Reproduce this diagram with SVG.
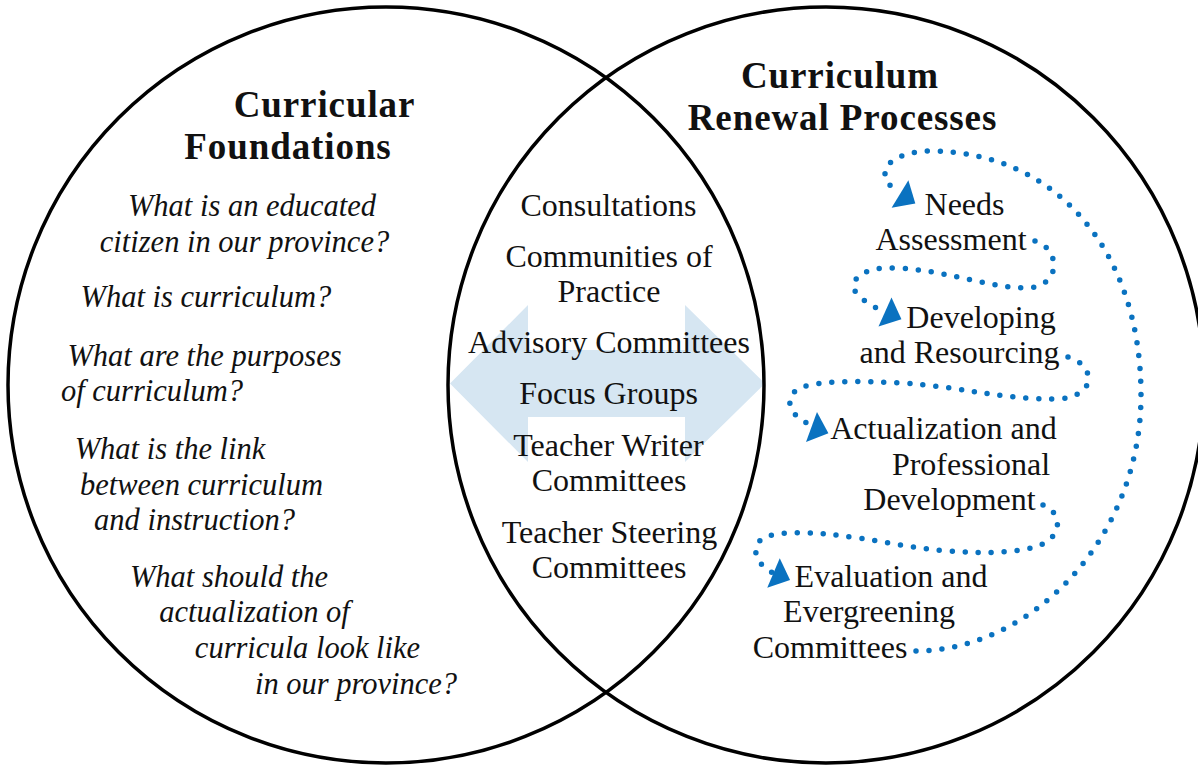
<svg xmlns="http://www.w3.org/2000/svg" width="1198" height="766" viewBox="0 0 1198 766">
<style>
.circ{fill:none;stroke:#000;stroke-width:3.5}
.t{font-family:"Liberation Serif","Times New Roman",serif;fill:#111;text-anchor:middle}
.title{font-size:37px;font-weight:bold;letter-spacing:0.9px}
.q{font-size:30.5px;font-style:italic}
.m{font-size:32px}
.dots{fill:none;stroke:#0a72c0;stroke-width:5.5;stroke-linecap:round;stroke-dasharray:0 13}
.ah{fill:#0a72c0}
.dbl{fill:#d6e6f2}
</style>
<defs>
<polygon id="head" points="0,-16 18,0 0,16"/>
</defs>
<rect width="1198" height="766" fill="#fff"/>
<g id="exchange-arrow">
<polygon class="dbl" points="450,383.5 528,305 528,350 685,350 685,305 765,383.5 685,462 685,417 528,417 528,462"/>
</g>
<g id="left-circle"><circle class="circ" cx="386" cy="385" r="378"/></g>
<g id="right-circle"><circle class="circ" cx="826" cy="385" r="378"/></g>
<g id="connectors">
<path class="dots" d="M916,651 C1030,651 1141,540 1141,395 C1141,250 1055,151 930,151 C908,151 885,160 885,173 C885,180 888,184 893,188"/>
<path class="dots" d="M1035,241 C1058,248 1062,280 1035,287 C1000,292 950,270 895,268 C860,266 846,283 858,295 C866,303 876,308 885,312"/>
<path class="dots" d="M1068,357 C1095,365 1098,395 1060,399 C1000,400 960,386 900,383 C860,381 820,380 800,388 C785,395 788,412 800,418 C804,421 808,424 811,427"/>
<path class="dots" d="M1043,505 C1062,512 1065,538 1035,547 C1000,556 950,553 900,545 C850,536 800,528 768,536 C750,542 752,562 773,573"/>
<use href="#head" class="ah" transform="translate(900,194) rotate(31.6)"/>
<use href="#head" class="ah" transform="translate(885,312) rotate(24)"/>
<use href="#head" class="ah" transform="translate(811.5,427) rotate(20)"/>
<use href="#head" class="ah" transform="translate(773.5,573) rotate(23)"/>
</g>
<g id="foundations">
<text class="t title" x="324.5" y="117">Curricular</text>
<text class="t title" x="288" y="158.5">Foundations</text>
<text class="t q" x="252" y="216">What is an educated</text>
<text class="t q" x="244.5" y="252">citizen in our province?</text>
<text class="t q" x="206" y="307">What is curriculum?</text>
<text class="t q" x="204.5" y="366">What are the purposes</text>
<text class="t q" x="152" y="401">of curriculum?</text>
<text class="t q" x="170" y="459">What is the link</text>
<text class="t q" x="201.5" y="495">between curriculum</text>
<text class="t q" x="194.5" y="530">and instruction?</text>
<text class="t q" x="229" y="587">What should the</text>
<text class="t q" x="254.5" y="622">actualization of</text>
<text class="t q" x="307.5" y="658">curricula look like</text>
<text class="t q" x="356" y="694">in our province?</text>
</g>
<g id="shared">
<text class="t m" x="608.5" y="216">Consultations</text>
<text class="t m" x="609" y="267">Communities of</text>
<text class="t m" x="609" y="302">Practice</text>
<text class="t m" x="609" y="353">Advisory Committees</text>
<text class="t m" x="608.5" y="404">Focus Groups</text>
<text class="t m" x="608.5" y="456">Teacher Writer</text>
<text class="t m" x="609" y="491">Committees</text>
<text class="t m" x="609.5" y="543">Teacher Steering</text>
<text class="t m" x="609" y="578">Committees</text>
</g>
<g id="renewal">
<text class="t title" x="840" y="88">Curriculum</text>
<text class="t title" x="842.5" y="129.5">Renewal Processes</text>
</g>
<g id="needs-assessment">
<text class="t m" x="964.5" y="215">Needs</text>
<text class="t m" x="951" y="250">Assessment</text>
</g>
<g id="developing">
<text class="t m" x="981" y="328">Developing</text>
<text class="t m" x="959.5" y="363">and Resourcing</text>
</g>
<g id="actualization">
<text class="t m" x="943.5" y="439">Actualization and</text>
<text class="t m" x="971" y="475">Professional</text>
<text class="t m" x="949.5" y="510">Development</text>
</g>
<g id="evaluation">
<text class="t m" x="891" y="587">Evaluation and</text>
<text class="t m" x="869" y="622">Evergreening</text>
<text class="t m" x="830" y="658">Committees</text>
</g>
</svg>
